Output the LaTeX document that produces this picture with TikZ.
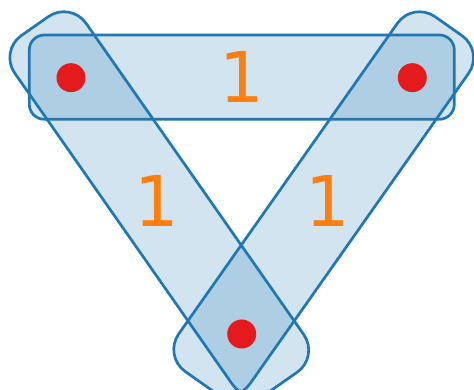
\documentclass[tikz,border=0pt]{standalone}
\usepackage{fontspec}
\setmainfont{DejaVu Sans}
\definecolor{tabblue}{HTML}{1F77B4}
\definecolor{taborange}{HTML}{FF7F0E}
\definecolor{dotred}{HTML}{E41A1C}
\begin{document}
\begin{tikzpicture}[x=1pt,y=1pt,
  band/.style={draw=tabblue, line width=2.7pt, fill=tabblue, fill opacity=0.2, draw opacity=1},
  dot/.style={circle, fill=dotred, inner sep=0pt, minimum size=29pt},
  lbl/.style={text=taborange, font=\fontsize{70}{70}\selectfont, inner sep=0pt}]
\useasboundingbox (0,0) rectangle (474,390);
\coordinate (A) at (71,312.3);
\coordinate (B) at (412.3,312.3);
\coordinate (C) at (241.7,56);
% right band (B -> C)
\begin{scope}[shift={(B)}, rotate=-125.15]
  \path[band, rounded corners=27pt] (-63,-43.5) rectangle (371,43.5);
\end{scope}
% left band (A -> C)
\begin{scope}[shift={(A)}, rotate=-55.03]
  \path[band, rounded corners=27pt] (-63,-43.5) rectangle (371,43.5);
\end{scope}
% top band (A -> B)
\path[band, rounded corners=15pt] (29.3,270.7) rectangle (454.3,355);
\node[dot] (dA) at (A) {};
\node[dot] (dB) at (B) {};
\node[dot] (dC) at (C) {};
\node[lbl] (l1) at (242,312.8) {1};
\node[lbl] (l2) at (156.5,189) {1};
\node[lbl] (l3) at (327.3,189) {1};
\end{tikzpicture}
\end{document}
